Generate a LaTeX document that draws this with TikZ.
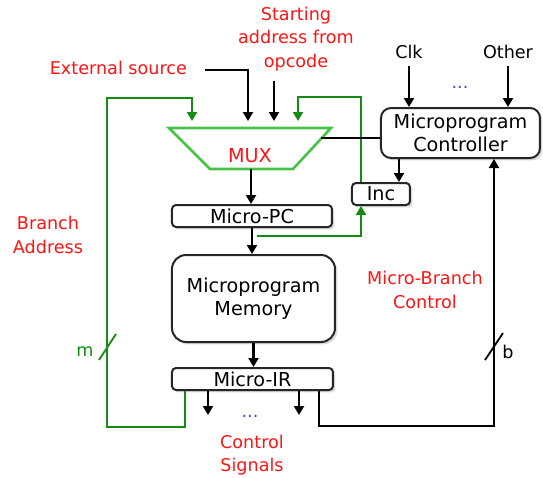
\documentclass[tikz,border=0pt]{standalone}
\usepackage{fontspec}
\setmainfont{DejaVu Sans}
\usetikzlibrary{arrows.meta,calc,shadows}

\definecolor{wiregreen}{RGB}{20,140,20}
\definecolor{muxgreen}{RGB}{70,195,70}
\definecolor{lblred}{RGB}{255,20,20}
\definecolor{dotblue}{RGB}{70,70,200}

\tikzset{
  blk/.style={draw=black!85, line width=1pt, fill=white, inner sep=0pt, align=center,
    font=\fontsize{9.6}{11.6}\selectfont,
    drop shadow={shadow xshift=1.2pt, shadow yshift=-1.2pt, opacity=0.3}},
  reg/.style={blk, rounded corners=2pt, minimum height=11pt},
  wire/.style={line width=1.2pt, -{Triangle[length=4.5pt,width=5pt]}},
  gwire/.style={wire, wiregreen},
  lbl/.style={text=lblred, align=center},
}

\begin{document}
\begin{tikzpicture}[x=0.5pt, y=-0.5pt, font=\fontsize{8.8}{11.8}\selectfont]
\useasboundingbox (0,0) rectangle (543,478);

% MUX
\draw[muxgreen, line width=1.3pt] (169,128) -- (331,128) -- (293,169) -- (210,169) -- cycle;
\node[text=lblred, font=\fontsize{9.6}{11.6}\selectfont] (mux) at (250,156) {MUX};
\foreach \n/\x in {1/192,2/248,3/274,4/298}
    \coordinate (in\n) at (\x,121);
\coordinate (muxout) at (251,169);
\coordinate (muxr) at (321,138);

% blocks
\node[reg, minimum width=80pt] (pc) at (252,216) {Micro-PC};
\node[blk, rounded corners=7pt, minimum width=81.5pt, minimum height=43.5pt] (mem) at (253.5,298.5) {Microprogram\\Memory};
\node[reg, minimum width=80.5pt] (ir) at (252.5,379) {Micro-IR};
\node[reg, minimum width=29pt] (inc) at (381,194) {Inc};
\node[blk, rounded corners=5pt, minimum width=79.5pt, minimum height=25pt] (ctrl) at (460.5,133) {Microprogram\\Controller};

% labels
\node[lbl, anchor=east] (ext) at (194,68) {External source};
\node[lbl] (start) at (296,39) {Starting\\address from\\opcode};
\node (clk) at (409,52) {Clk};
\node (other) at (508,52) {Other};
\node[text=dotblue] (cdots) at (460,87) {...};
\node[lbl] (brlbl) at (48,235) {Branch\\Address};
\node[lbl] (mblbl) at (425,290) {Micro-Branch\\Control};
\node[lbl] (siglbl) at (252,455) {Control\\Signals};
\node[text=dotblue] (sdots) at (250,416) {...};
\node[text=wiregreen] (mlbl) at (85,352) {m};
\node (blbl) at (508,352) {b};

% datapath
\draw[wire] ($(ext.east)+(11,2)$) -| (in2);
\draw[wire] ($(in3 |- start.south)+(0,3)$) -- (in3);
\draw[wire] (muxout) -- (muxout |- pc.north);
\draw[wire] (pc.south) -- (pc.south |- mem.north);
\draw[wire] (mem.south) -- (mem.south |- ir.north);

% increment loop
\coordinate (pctap) at ($(pc.south)+(5,8)$);
\coordinate (cinc) at ($(inc.north east)+(-12,0)$);
\draw[gwire] (pctap) -| ($(inc.south west)+(10,0)$);
\draw[gwire] ($(inc.north west)+(10,0)$) |- ($(in4)+(0,-24)$) -- (in4);
\draw[wire] (cinc |- ctrl.south) -- (cinc);
\draw[line width=1.2pt] (muxr) -- (muxr -| ctrl.west);
\foreach \s in {clk,other}
    \draw[wire] (\s.south) -- (\s.south |- ctrl.north);

% control signals
\coordinate (sig1) at (208,415);
\coordinate (sig2) at (299,415);
\foreach \n in {1,2}
    \draw[wire] (sig\n |- ir.south) -- (sig\n);

% branch address
\coordinate (gbl) at (107,427);
\coordinate (gtl) at (107,98);
\draw[gwire] ($(ir.south west)+(14,0)$) |- (gbl) -- (gtl) -| (in1);
\draw[wiregreen, line width=0.9pt] (99,360) -- (116,334);

% micro-branch control
\coordinate (bbr) at (494,426);
\draw[wire] ($(ir.south east)+(-15,0)$) |- (bbr) -- (bbr |- ctrl.south);
\draw[line width=0.9pt] (485,360) -- (503,333);
\end{tikzpicture}
\end{document}
